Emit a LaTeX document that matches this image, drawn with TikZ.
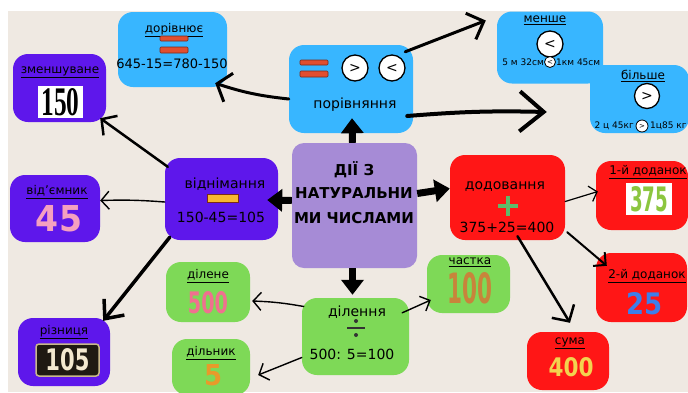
\documentclass[tikz,border=0pt]{standalone}
\usepackage{fontspec}
\usepackage{graphicx}
\setmainfont{DejaVu Sans}
\newfontfamily\serifnum{Liberation Serif}
\usetikzlibrary{arrows.meta,calc}
\definecolor{bg}{HTML}{EFE9E2}
\definecolor{cblue}{HTML}{38B6FF}
\definecolor{cpurple}{HTML}{5E17EB}
\definecolor{clav}{HTML}{A68BD6}
\definecolor{cred}{HTML}{FF1616}
\definecolor{cgreen}{HTML}{7ED957}
\definecolor{barred}{HTML}{E14E2F}
\definecolor{bardark}{HTML}{7A2A1A}
\definecolor{baryel}{HTML}{F7B731}
\definecolor{plusg}{HTML}{5DBB6A}
\definecolor{npink}{HTML}{F5A0C0}
\definecolor{ngreen}{HTML}{8CC63F}
\definecolor{nblue}{HTML}{3D7EEA}
\definecolor{ngold}{HTML}{F3D34F}
\definecolor{nrose}{HTML}{F0708F}
\definecolor{norange}{HTML}{E89A2A}
\definecolor{nbronze}{HTML}{C8843B}
\definecolor{ncream}{HTML}{F3E9CF}
\definecolor{plate}{HTML}{1F1A12}
\definecolor{platerim}{HTML}{C9B98A}
\begin{document}
\begin{tikzpicture}[x=1pt,y=-1pt,
  box/.style={rounded corners=15pt, inner sep=0pt},
  hd/.style={font=\fontsize{12}{12}\selectfont, inner sep=0pt},
  mt/.style={font=\fontsize{14}{14}\selectfont, inner sep=0pt},
  sm/.style={font=\fontsize{9}{9}\selectfont, inner sep=0pt},
  ctr/.style={font=\fontsize{15}{15}\selectfont\bfseries, inner sep=0pt},
  cmpc/.style={circle, draw=black, line width=1.3pt, fill=white, inner sep=0pt},
  num/.style={inner sep=0pt},
  big/.style={line width=7pt, -{Triangle[length=15pt,width=22pt]}},
  thk/.style={line width=2.5pt, line cap=round, -{Straight Barb[length=11pt,width=24pt]}},
  thn/.style={line width=1.4pt, line cap=round, -{Straight Barb[length=7pt,width=16pt]}},
  bar/.style={fill=barred, draw=bardark, line width=0.6pt, rounded corners=1pt}]
\useasboundingbox (0,0) rectangle (688,392);
\fill[white] (0,0) rectangle (688,392);
\fill[bg] (8,11) rectangle (688,392);

% ---- boxes ----
\node[box, fill=cblue, minimum width=109pt, minimum height=75pt] (eq) at (172.5,49.5) {};
\node[box, fill=cblue, minimum width=124pt, minimum height=88pt] (cmp) at (351,89) {};
\node[box, fill=cblue, minimum width=106pt, minimum height=72pt] (less) at (550,47.5) {};
\node[box, fill=cblue, minimum width=99pt, minimum height=68pt] (more) at (639.5,99) {};
\node[box, fill=cpurple, minimum width=93pt, minimum height=68pt] (minu) at (59.5,88) {};
\node[box, fill=cpurple, minimum width=90pt, minimum height=67pt] (subt) at (55,208.5) {};
\node[box, fill=cpurple, minimum width=113pt, minimum height=82pt] (sub) at (221.5,199) {};
\node[box, fill=cpurple, minimum width=92pt, minimum height=68pt] (diff) at (64,352) {};
\node[box, fill=clav, minimum width=125pt, minimum height=125pt, rounded corners=12pt] (center) at (354.5,205.5) {};
\node[box, fill=cred, minimum width=115pt, minimum height=85pt] (add) at (507.5,197.5) {};
\node[box, fill=cred, minimum width=92pt, minimum height=69pt] (a1) at (642,195.5) {};
\node[box, fill=cred, minimum width=91pt, minimum height=69pt] (a2) at (641.5,287.5) {};
\node[box, fill=cred, minimum width=82pt, minimum height=58pt] (sum) at (568,361) {};
\node[box, fill=cgreen, minimum width=84pt, minimum height=60pt] (dvd) at (208,292) {};
\node[box, fill=cgreen, minimum width=78pt, minimum height=56pt] (dvs) at (211,367) {};
\node[box, fill=cgreen, minimum width=107pt, minimum height=77pt] (div) at (355.5,336.5) {};
\node[box, fill=cgreen, minimum width=83pt, minimum height=58pt] (quot) at (468.5,284) {};

% ---- contents ----
% дорівнює
\node[hd] (eqh) at (174,30) {\underline{дорівнює}};
\draw[bar] (160,36) rectangle (188,41);
\draw[bar] (160,47) rectangle (188,53);
\node[mt, font=\fontsize{13}{13}\selectfont] (eqt) at (172,64) {645-15=780-150};
% порівняння
\draw[bar] (300,60) rectangle (328,65);
\draw[bar] (300,71) rectangle (328,77);
\node[cmpc, minimum size=26pt, font=\fontsize{14}{14}\selectfont] (gt1) at (355,68) {>};
\node[cmpc, minimum size=26pt, font=\fontsize{14}{14}\selectfont] (lt1) at (392,68) {<};
\node[mt] (cmpt) at (355,105) {порівняння};
% менше
\node[hd] (lessh) at (545,20) {\underline{менше}};
\node[cmpc, minimum size=26pt, font=\fontsize{14}{14}\selectfont] (lt2) at (550,44) {<};
\node[cmpc, minimum size=11pt, line width=0.8pt, font=\fontsize{7}{7}\selectfont] (lt3) at (550,62) {<};
\node[sm, anchor=east] (lessl) at (544,62) {5 м 32см};
\node[sm, anchor=west] (lessr) at (556,62) {1км 45см};
% більше
\node[hd] (moreh) at (643,76) {\underline{більше}};
\node[cmpc, minimum size=25pt, font=\fontsize{14}{14}\selectfont] (gt2) at (647,96) {>};
\node[cmpc, minimum size=12pt, line width=0.8pt, font=\fontsize{7}{7}\selectfont] (gt3) at (642,126) {>};
\node[sm, anchor=east] (morel) at (634,126) {2 ц 45кг};
\node[sm, anchor=west] (morer) at (650,126) {1ц85 кг};
% зменшуване
\node[hd] (minuh) at (60,72) {\underline{зменшуване}};
\fill[white] (38,86) rectangle (83,118);
\node[num] (minun) at (60.5,102) {\resizebox{38pt}{27pt}{\serifnum\bfseries 150}};
% від'ємник
\node[hd] (subth) at (57,192) {\underline{від'ємник}};
\node[num, text=npink] (subtn) at (59,218.5) {\resizebox{46pt}{26pt}{\bfseries 45}};
% віднімання
\node[mt] (subh) at (225,184) {віднімання};
\fill[baryel, draw=bardark, line width=0.5pt] (207,194) rectangle (238,202);
\node[mt] (subt2) at (221,217) {150-45=105};
% різниця
\node[hd] (diffh) at (64,332) {\underline{різниця}};
\draw[fill=plate, draw=platerim, line width=1.5pt, rounded corners=3pt] (36,344) rectangle (99,376);
\node[num, text=ncream] (diffn) at (67.5,360) {\resizebox{44pt}{22pt}{\bfseries 105}};
% центр
\node[ctr] (c1) at (354,170) {ДІЇ З};
\node[ctr] (c2) at (354,193) {НАТУРАЛЬНИ};
\node[ctr] (c3) at (354,218) {МИ ЧИСЛАМИ};
% додовання
\node[mt] (addh) at (505,187) {додовання};
\draw[plusg, line width=4pt] (498,206) -- (518,206) (508,196) -- (508,216);
\node[mt] (addt) at (507,227) {375+25=400};
% 1-й доданок
\node[hd] (a1h) at (648,172) {\underline{1-й доданок}};
\fill[white] (626,183) rectangle (672,215);
\node[num, text=ngreen] (a1n) at (649,199.5) {\resizebox{38pt}{25pt}{\bfseries 375}};
% 2-й доданок
\node[hd] (a2h) at (647,276) {\underline{2-й доданок}};
\node[num, text=nblue] (a2n) at (644,304) {\resizebox{36pt}{22pt}{\bfseries 25}};
% сума
\node[hd] (sumh) at (570,343) {\underline{сума}};
\node[num, text=ngold] (sumn) at (571,367.5) {\resizebox{45pt}{19pt}{\bfseries 400}};
% ділене
\node[hd] (dvdh) at (208,276) {\underline{ділене}};
\node[num, text=nrose] (dvdn) at (208,303) {\resizebox{40pt}{22pt}{\bfseries 500}};
% дільник
\node[hd] (dvsh) at (211,353) {\underline{дільник}};
\node[num, text=norange] (dvsn) at (213,375.5) {\resizebox{18pt}{21pt}{\bfseries 5}};
% ділення
\node[mt] (divh) at (357,312) {ділення};
\draw[black!80, line width=2.5pt] (347,328) -- (365,328);
\fill[black!80] (356,321) circle (2pt) (356,335) circle (2pt);
\node[mt] (divt) at (352,354) {500: 5=100};
% частка
\node[hd] (quoth) at (470,262) {\underline{частка}};
\node[num, text=nbronze] (quotn) at (470,288.5) {\resizebox{45pt}{31pt}{\bfseries 100}};

% ---- connectors ----
\draw[big] ($(center.north)+(-2,0)$) -- ($(cmp.south)+(1,-15)$);
\draw[big] ($(center.west)+(0,-5)$) -- ($(sub.east)+(-11,1)$);
\draw[big] ($(center.east)+(0,-12)$) -- ($(add.west)+(0,-9)$);
\draw[big] ($(center.south)+(-2,0)$) -- ($(div.north)+(-3,-3)$);

\draw[thk, line width=3pt, -{Straight Barb[length=12pt,width=30pt]}] ($(cmp.west)+(0,10)$) to[bend left=6] ($(eq.south east)+(-12,-4)$);
\draw[thk, line width=3pt, -{Straight Barb[length=14pt,width=28pt]}] ($(cmp.north east)+(-8,7)$) -- ($(less.west)+(-11,-27)$);
\draw[thk, line width=4pt, -{Straight Barb[length=24pt,width=40pt]}] ($(cmp.east)+(-6,27)$) to[bend left=3] ($(more.west)+(-43,13)$);

\draw[thk] ($(sub.north west)+(3,9)$) -- ($(minu.south east)+(-6,-4)$);
\draw[thn, -{Straight Barb[length=8pt,width=18pt]}] ($(sub.west)+(0,3)$) to[bend right=3] ($(subt.east)+(0,-8)$);
\draw[thk, line width=3.5pt, -{Straight Barb[length=15pt,width=26pt]}] ($(sub.south west)+(5,-3)$) -- ($(diff.north east)+(-7,3)$);

\draw[thn, -{Straight Barb[length=8pt,width=18pt]}] ($(div.west)+(2,-30)$) to[bend right=4] ($(dvd.east)+(2,9)$);
\draw[thn, -{Straight Barb[length=8pt,width=18pt]}] ($(div.west)+(0,21)$) -- ($(dvs.east)+(8,8)$);
\draw[thn, -{Straight Barb[length=8pt,width=16pt]}] ($(div.north east)+(-7,15)$) -- ($(quot.west)+(4,16)$);

\draw[thn, line width=1.2pt] ($(add.east)+(0,4)$) -- ($(a1.west)+(2,-4)$);
\draw[thn, line width=2pt, -{Straight Barb[length=9pt,width=18pt]}] ($(add.south east)+(2,-8)$) -- ($(a2.north west)+(11,13)$);
\draw[thk, -{Straight Barb[length=12pt,width=26pt]}] ($(add.south)+(10,-4)$) -- ($(sum.north)+(2,-9)$);
\end{tikzpicture}
\end{document}
